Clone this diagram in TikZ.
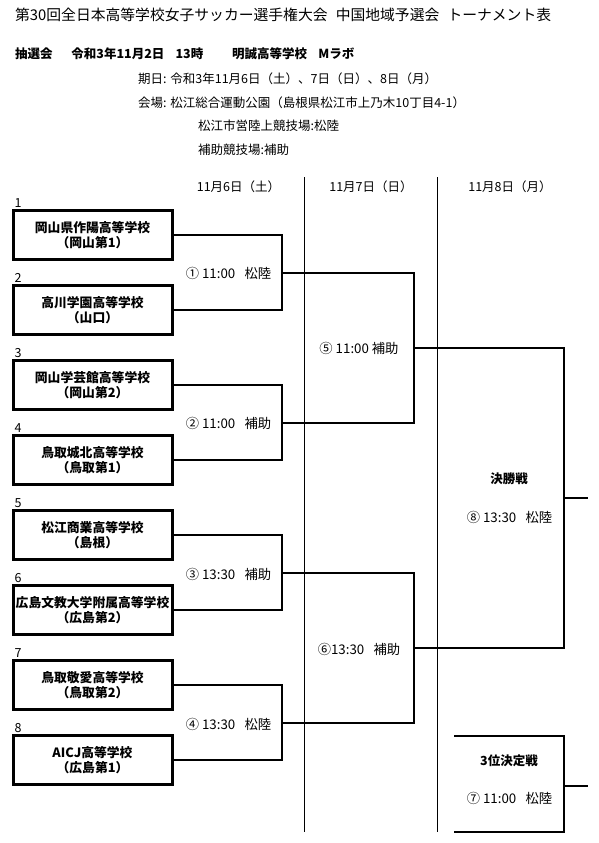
\documentclass[tikz,border=0pt]{standalone}
\usepackage{fontspec}
\setmainfont{Noto Sans CJK JP}
\usepackage{tikz}
\tikzset{team/.style = {shape = rectangle, draw, line width = 3pt, minimum width = 159pt, minimum height = 49pt, inner sep = 1pt, align = center, font = \bfseries\fontsize{12.8}{14.5}\selectfont}}
\tikzset{seednum/.style = {anchor = base west, inner sep = 0pt, xshift = 3pt, yshift = 1.5pt, font = \fontsize{12.5}{14}\selectfont}}
\tikzset{matchtxt/.style = {inner sep = 0pt, font = \fontsize{13.3}{15}\selectfont}}
\tikzset{daytxt/.style = {inner sep = 0pt, font = \fontsize{12.5}{14}\selectfont}}
\tikzset{roundtitle/.style = {inner sep = 0pt, font = \bfseries\fontsize{12.5}{14}\selectfont}}
\tikzset{infotxt/.style = {anchor = west, inner sep = 0pt, font = \fontsize{12.5}{14}\selectfont}}
\tikzset{edge/.style = {-, line width = 2pt}}
\tikzset{dayline/.style = {-, line width = 1pt}}

\begin{document}
\begin{tikzpicture}[x = 1pt, y = -1pt]
	\useasboundingbox (0, 0) rectangle (598, 843);
	\node[infotxt, font = \fontsize{14.8}{18}\selectfont] (title) at (15, 15) {第30回全日本高等学校女子サッカー選手権大会\hspace{.55em}中国地域予選会\hspace{.55em}トーナメント表};
	\node[infotxt, font = \bfseries\fontsize{12.5}{14}\selectfont] (lottery) at (15, 54) {抽選会\hspace{1.5em}令和3年11月2日\hspace{.9em}13時\hspace{2.3em}明誠高等学校\hspace{.9em}Mラボ};
	\node[infotxt] (dates) at (138, 79) {期日:\hspace{.3em}令和3年11月6日（土）、7日（日）、8日（月）};
	\node[infotxt] (venue) at (138, 103) {会場:\hspace{.3em}松江総合運動公園（島根県松江市上乃木10丁目4-1）};
	\node[infotxt] (venue1) at (198, 126) {松江市営陸上競技場:松陸};
	\node[infotxt] (venue2) at (198, 150) {補助競技場:補助};

	\node[daytxt] (day6) at (238.5, 187) {11月6日（土）};
	\node[daytxt] (day7) at (371, 187) {11月7日（日）};
	\node[daytxt] (day8) at (510, 187) {11月8日（月）};
	\coordinate (s1a) at (304, 177);
	\coordinate (s1b) at (304, 832);
	\coordinate (s2a) at (437, 177);
	\coordinate (s2b) at (437, 832);
	\draw[dayline] (s1a) -- (s1b);
	\draw[dayline] (s2a) -- (s2b);

	\node[team] (t1) at (92.5, 235) {岡山県作陽高等学校\\（岡山第1）};
	\node[team] (t2) at (92.5, 310) {高川学園高等学校\\（山口）};
	\node[team] (t3) at (92.5, 385) {岡山学芸館高等学校\\（岡山第2）};
	\node[team] (t4) at (92.5, 460) {鳥取城北高等学校\\（鳥取第1）};
	\node[team] (t5) at (92.5, 535) {松江商業高等学校\\（島根）};
	\node[team] (t6) at (92.5, 610) {広島文教大学附属高等学校\\（広島第2）};
	\node[team] (t7) at (92.5, 685) {鳥取敬愛高等学校\\（鳥取第2）};
	\node[team] (t8) at (92.5, 760) {AICJ高等学校\\（広島第1）};

	\node[seednum] (n1) at (t1.north west) {1};
	\node[seednum] (n2) at (t2.north west) {2};
	\node[seednum] (n3) at (t3.north west) {3};
	\node[seednum] (n4) at (t4.north west) {4};
	\node[seednum] (n5) at (t5.north west) {5};
	\node[seednum] (n6) at (t6.north west) {6};
	\node[seednum] (n7) at (t7.north west) {7};
	\node[seednum] (n8) at (t8.north west) {8};

	\coordinate (j1) at (282, 272.5);
	\coordinate (j2) at (282, 422.5);
	\coordinate (j3) at (282, 572.5);
	\coordinate (j4) at (282, 722.5);
	\coordinate (j5) at (414, 347.5);
	\coordinate (j6) at (414, 647.5);
	\coordinate (j8) at (564, 497.5);
	\coordinate (w8) at (588, 497.5);
	\coordinate (p7a) at (454, 736);
	\coordinate (p7b) at (454, 832);
	\coordinate (j7) at (564, 786);
	\coordinate (w7) at (588, 786);

	\draw[edge] (t1.east) -| (j1) |- (t2.east);
	\draw[edge] (t3.east) -| (j2) |- (t4.east);
	\draw[edge] (t5.east) -| (j3) |- (t6.east);
	\draw[edge] (t7.east) -| (j4) |- (t8.east);
	\draw[edge] (j1) -| (j5) |- (j2);
	\draw[edge] (j3) -| (j6) |- (j4);
	\draw[edge] (j5) -| (j8) |- (j6);
	\draw[edge] (j8) -- (w8);
	\draw[edge] (p7a) -| (j7) |- (p7b);
	\draw[edge] (j7) -- (w7);

	\node[matchtxt] (m1) at (228.5, 273) {①\ 11:00\hspace{.7em}松陸};
	\node[matchtxt] (m2) at (228.5, 423) {②\ 11:00\hspace{.7em}補助};
	\node[matchtxt] (m3) at (228.5, 574) {③\ 13:30\hspace{.7em}補助};
	\node[matchtxt] (m4) at (228.5, 724) {④\ 13:30\hspace{.7em}松陸};
	\node[matchtxt] (m5) at (359, 348) {⑤\ 11:00\ 補助};
	\node[matchtxt] (m6) at (359, 649) {⑥13:30\hspace{.7em}補助};
	\node[roundtitle] (fin) at (509, 479) {決勝戦};
	\node[matchtxt] (m8) at (509.5, 517) {⑧\ 13:30\hspace{.7em}松陸};
	\node[roundtitle] (third) at (509, 761) {3位決定戦};
	\node[matchtxt] (m7) at (509.5, 798) {⑦\ 11:00\hspace{.7em}松陸};
\end{tikzpicture}
\end{document}
